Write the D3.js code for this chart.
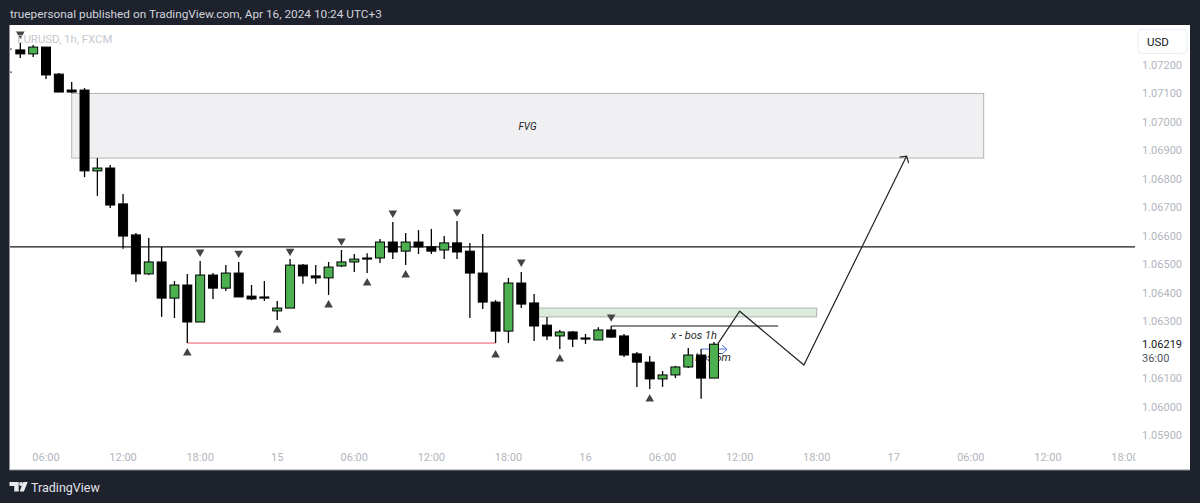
<!DOCTYPE html>
<html><head><meta charset="utf-8">
<script src="https://cdn.jsdelivr.net/npm/d3@7"></script>
<style>html,body{margin:0;padding:0;background:#1e222d}svg{display:block}text{font-family:Roboto,"Noto Sans",sans-serif}</style>
</head><body><svg id="c" width="1200" height="503"></svg>
<script>
// bar index 0 is 04:00 on the first visible morning; prices are in FXCM quote units
const opens=[1.07253,1.07239,1.07263,1.07168,1.07112,1.07112,1.06828,1.06838,1.06712,1.06603,1.06466,1.06508,1.06381,1.06427,1.06297,1.06462,1.06416,1.06469,1.06388,1.06385,1.06336,1.06346,1.06497,1.06459,1.06452,1.06494,1.06508,1.06522,1.06522,1.06578,1.06546,1.06578,1.06561,1.06550,1.06575,1.06546,1.06469,1.06367,1.06265,1.06434,1.06364,1.06286,1.06248,1.06262,1.06241,1.06234,1.06269,1.06248,1.06185,1.06156,1.06097,1.06111,1.06139,1.06181,1.06100];
const highs=[1.07277,1.07270,1.07263,1.07172,1.07140,1.07119,1.06873,1.06849,1.06747,1.06610,1.06592,1.06561,1.06441,1.06466,1.06511,1.06469,1.06497,1.06508,1.06427,1.06441,1.06371,1.06518,1.06501,1.06497,1.06508,1.06550,1.06536,1.06539,1.06589,1.06648,1.06610,1.06620,1.06624,1.06599,1.06652,1.06575,1.06606,1.06374,1.06452,1.06473,1.06395,1.06315,1.06269,1.06265,1.06255,1.06279,1.06283,1.06255,1.06192,1.06178,1.06125,1.06143,1.06206,1.06202,1.06227];
const lows=[1.07225,1.07228,1.07151,1.07105,1.07102,1.06806,1.06740,1.06698,1.06554,1.06438,1.06462,1.06315,1.06311,1.06223,1.06297,1.06378,1.06406,1.06385,1.06374,1.06371,1.06304,1.06346,1.06431,1.06431,1.06392,1.06490,1.06473,1.06469,1.06504,1.06518,1.06497,1.06536,1.06536,1.06518,1.06518,1.06311,1.06343,1.06223,1.06223,1.06346,1.06230,1.06234,1.06202,1.06209,1.06220,1.06234,1.06241,1.06174,1.06069,1.06062,1.06069,1.06100,1.06135,1.06027,1.06100];
const closes=[1.07239,1.07263,1.07165,1.07105,1.07105,1.06828,1.06838,1.06708,1.06599,1.06466,1.06508,1.06381,1.06427,1.06297,1.06462,1.06416,1.06469,1.06385,1.06378,1.06381,1.06346,1.06497,1.06459,1.06452,1.06490,1.06508,1.06518,1.06518,1.06578,1.06543,1.06578,1.06561,1.06546,1.06575,1.06543,1.06469,1.06367,1.06265,1.06434,1.06360,1.06283,1.06248,1.06262,1.06237,1.06237,1.06269,1.06244,1.06181,1.06156,1.06097,1.06111,1.06139,1.06181,1.06100,1.06219];

const priceTicks=[1.072,1.071,1.07,1.069,1.068,1.067,1.066,1.065,1.064,1.063,1.061,1.06,1.059];
const timeTickBars=[2,8,14,20,26,32,38,44,50,56,62,68,74,80,86];
const timeTickLabels=["06:00","12:00","18:00","15","06:00","12:00","18:00","16","06:00","12:00","18:00","17","06:00","12:00","18:00"];
const pivotHighBars=[0,14,17,21,25,29,34,39,46];
const pivotHighPrices=[1.07309,1.06543,1.06539,1.06546,1.06582,1.06680,1.06684,1.06508,1.06315];
const pivotLowBars=[13,20,24,27,30,37,42,49];
const pivotLowPrices=[1.06188,1.06269,1.06357,1.06434,1.06462,1.06181,1.06167,1.06026];
const strokePathBars=[54.3,56,61,69];
const strokePathPrices=[1.06220,1.06335,1.06146,1.06880];
const lastPrice=1.06219;

const svg=d3.select("#c");
const x=d3.scaleLinear().domain([2,86]).range([46,1125]);
const y=d3.scaleLinear().domain([1.059,1.072]).range([435,65]);
const bg="#1e222d", up="#4caf50", ink="#000";

svg.append("rect").attr("width",1200).attr("height",503).attr("fill",bg);
svg.append("rect").attr("x",9.5).attr("y",25).attr("width",1180.5).attr("height",445).attr("fill","#fff");
svg.append("line").attr("x1",9.5).attr("x2",1190).attr("y1",470).attr("y2",470).attr("stroke","#8a8d94").attr("stroke-width",1);
const defs=svg.append("defs");
defs.append("clipPath").attr("id","pane").append("rect").attr("x",10).attr("y",25).attr("width",1125).attr("height",445);

const pane=svg.append("g").attr("clip-path","url(#pane)");

// FVG zone
pane.append("rect").attr("x",x(4)).attr("y",y(1.07100)).attr("width",x(75)-x(4)).attr("height",y(1.06873)-y(1.071))
 .attr("fill","#f0f0f2").attr("stroke","#b5b5b5").attr("stroke-width",1);
pane.append("text").attr("x",527.5).attr("y",y(1.07)+8).attr("text-anchor","middle").attr("font-size",10).attr("font-style","italic").attr("fill","#222").text("FVG");

// level line
pane.append("line").attr("x1",10).attr("x2",1135).attr("y1",y(1.06561)).attr("y2",y(1.06561)).attr("stroke","#1a1a1a").attr("stroke-width",1.2);
// liquidity line
pane.append("line").attr("x1",x(13)).attr("x2",x(37)).attr("y1",y(1.06223)).attr("y2",y(1.06223)).attr("stroke","#ef5466").attr("stroke-width",1);
// supply zone
pane.append("rect").attr("x",x(40)).attr("y",y(1.06346)).attr("width",x(62)-x(40)).attr("height",y(1.06315)-y(1.06346))
 .attr("fill","#dcecdc").attr("stroke","#a9b5a9").attr("stroke-width",1);
// break of structure
pane.append("line").attr("x1",x(46)).attr("x2",x(59)).attr("y1",y(1.06283)).attr("y2",y(1.06283)).attr("stroke","#111").attr("stroke-width",1.1);
pane.append("text").attr("x",694).attr("y",339).attr("text-anchor","middle").attr("font-size",11).attr("font-style","italic").attr("fill","#2a2a2a").text("x - bos 1h");
// small bos
pane.append("text").attr("x",713).attr("y",361).attr("text-anchor","middle").attr("font-size",11).attr("font-style","italic").attr("fill","#2a2a2a").text("bos 5m");
pane.append("path").attr("d",`M${x(53)},${y(1.06202)}H727M722,345L727,349.5L722,354`).attr("fill","none").attr("stroke","#4f7be0").attr("stroke-width",1);

// clipped bar at the left edge
pane.selectAll(".edge").data([1.07256,1.07175]).join("line").attr("x1",10).attr("x2",12).attr("y1",d=>y(d)).attr("y2",d=>y(d)).attr("stroke","#333").attr("stroke-width",1);

// candles
const bars=opens.map((o,i)=>({i,o,h:highs[i],l:lows[i],c:closes[i]}));
const bw=9, g=pane.selectAll(".bar").data(bars).join("g");
g.append("line").attr("x1",d=>x(d.i)).attr("x2",d=>x(d.i)).attr("y1",d=>y(d.h)).attr("y2",d=>y(d.l)).attr("stroke",ink).attr("stroke-width",1.3);
g.append("rect").attr("x",d=>x(d.i)-bw/2).attr("width",bw)
 .attr("y",d=>y(Math.max(d.o,d.c))).attr("height",d=>Math.max(1,Math.abs(y(d.o)-y(d.c))))
 .attr("fill",d=>d.c>=d.o?up:ink).attr("stroke",ink).attr("stroke-width",1);

// pivots
const tri=d3.symbol().type(d3.symbolTriangle).size(32);
pane.selectAll(".ph").data(pivotHighBars).join("path").attr("d",tri).attr("fill","#444")
 .attr("transform",(d,i)=>`translate(${x(d)},${y(pivotHighPrices[i])}) rotate(180)`);
pane.selectAll(".pl").data(pivotLowBars).join("path").attr("d",tri).attr("fill","#444")
 .attr("transform",(d,i)=>`translate(${x(d)},${y(pivotLowPrices[i])})`);

// projected path
const pathPts=strokePathBars.map((b,i)=>[x(b),y(strokePathPrices[i])]);
pane.append("path").attr("d",d3.line()(pathPts)).attr("fill","none").attr("stroke","#222").attr("stroke-width",1.2);
const [ex,ey]=pathPts[3];
pane.append("path").attr("d",`M${ex-7},${ey+1}L${ex},${ey}L${ex+2},${ey+7}`).attr("fill","none").attr("stroke","#222").attr("stroke-width",1.2);

// watermark
svg.append("text").attr("x",17).attr("y",43).attr("font-size",11.4).attr("fill","#c6c8cc").text("EURUSD, 1h, FXCM");

// price axis
const axisY=d3.axisRight(y).tickValues(priceTicks).tickFormat(d3.format(".5f")).tickSize(0).tickPadding(0);
const ay=svg.append("g").attr("transform","translate(1142,0)").call(axisY);
ay.select(".domain").remove();
ay.selectAll("text").attr("fill","#b2b5be").attr("font-size",11).attr("font-family",'Roboto,"Noto Sans",sans-serif');

// last price and countdown
svg.append("text").attr("x",1142).attr("y",y(lastPrice)+4).attr("font-size",11).attr("fill","#131722").text(d3.format(".5f")(lastPrice));
svg.append("text").attr("x",1142).attr("y",362).attr("font-size",11).attr("fill","#50535e").text("36:00");

// currency
svg.append("rect").attr("x",1138).attr("y",29.5).attr("width",49).attr("height",24).attr("rx",4).attr("fill","#fff").attr("stroke","#eceef1").attr("stroke-width",1);
svg.append("text").attr("x",1147).attr("y",46).attr("font-size",11.5).attr("fill","#131722").text("USD");

// time axis
defs.append("clipPath").attr("id","tax").append("rect").attr("x",10).attr("y",445).attr("width",1125.5).attr("height",25);
const tx=svg.append("g").attr("clip-path","url(#tax)");
const ticks=timeTickBars.map((b,i)=>({b,t:timeTickLabels[i]}));
tx.selectAll("text").data(ticks).join("text").attr("x",d=>x(d.b)).attr("y",461).attr("text-anchor","middle").attr("font-size",11).attr("fill","#b2b5be").text(d=>d.t);

// header
svg.append("text").attr("x",10).attr("y",18).attr("font-size",11.8).attr("fill","#d1d4dc").text("truepersonal published on TradingView.com, Apr 16, 2024 10:24 UTC+3");

// footer brand
svg.append("path").attr("fill","#e8eaee").attr("d","M9.5,482H18.7V491.5H14.2V486H9.5ZM19.6,491.5L23.3,482H27.7L23.9,491.5Z");
svg.append("circle").attr("cx",21).attr("cy",484).attr("r",1.9).attr("fill","#e8eaee");
svg.append("text").attr("x",31).attr("y",491.5).attr("font-size",12.5).attr("fill","#e0e3eb").text("TradingView");
</script></body></html>
